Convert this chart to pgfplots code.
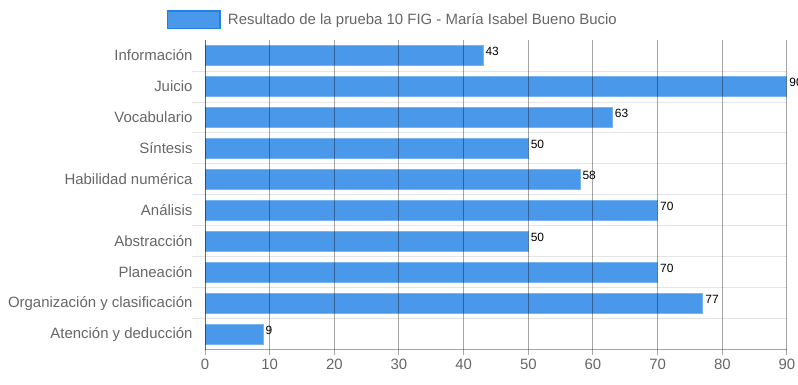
\documentclass[border=0pt]{standalone}
\usepackage{pgfplots}
\pgfplotsset{compat=1.18}
\usepackage{fontspec}
\setmainfont{Liberation Sans}
\definecolor{barfill}{RGB}{74,152,233}
\definecolor{barline}{RGB}{120,180,240}
\definecolor{legline}{RGB}{34,129,227}
\definecolor{txt}{RGB}{102,102,102}
\begin{document}
\begin{tikzpicture}
\path[use as bounding box] (0,0) rectangle (798bp,385bp);
\begin{axis}[
  at={(205bp,35bp)}, anchor=south west,
  width=582bp, height=310bp, scale only axis,
  /pgf/number format/assume math mode=true,
  xbar, bar width=20bp,
  xmin=0, xmax=90, xtick={0,10,...,90},
  ymin=-0.5, ymax=9.5,
  ytick={0,...,9},
  yticklabels={Atención y deducción,Organización y clasificación,Planeación,Abstracción,Análisis,Habilidad numérica,Síntesis,Vocabulario,Juicio,Información},
  axis x line*=bottom, axis y line*=left,
  axis line style={black, opacity=0.35, line width=1bp},
  axis on top,
  xmajorgrids, major grid style={black, opacity=0.35, line width=1bp},
  tick align=outside, major tick length=5bp,
  xtick style={black, opacity=0.35, line width=1bp},
  ytick style={draw=none},
  extra y ticks={0.5,1.5,...,8.5},
  extra y tick labels={},
  extra y tick style={grid=major, major grid style={black, opacity=0.1, line width=1bp}, major tick length=13bp, ytick style={draw=black, opacity=0.1, line width=1bp}},
  tick label style={font=\fontsize{15}{18}\selectfont, text=txt},
  yticklabel style={xshift=-4bp},
  xticklabel style={yshift=-1bp},
  nodes near coords,
  nodes near coords style={anchor=west, font=\fontsize{12}{14}\selectfont, text=black, inner sep=1bp, xshift=1bp, yshift=4bp},
  legend image code/.code={\draw[fill=barfill, draw=legline, line width=1.5bp] (0.75bp,-8.75bp) rectangle (53.25bp,8.75bp);},
  legend style={draw=none, fill=none, at={(axis description cs:-0.0653,1.066)}, anchor=west, inner sep=0pt, outer sep=0pt, font=\fontsize{15}{18}\selectfont, text=txt, nodes={inner sep=0pt}},
]
\addplot[fill=barfill, draw=barline, line width=1bp] coordinates {
  (9,0) (77,1) (70,2) (50,3) (70,4) (58,5) (50,6) (63,7) (90,8) (43,9)
};
\addlegendentry{\hspace*{7bp}Resultado de la prueba 10 FIG - María Isabel Bueno Bucio}
\end{axis}
\end{tikzpicture}
\end{document}
